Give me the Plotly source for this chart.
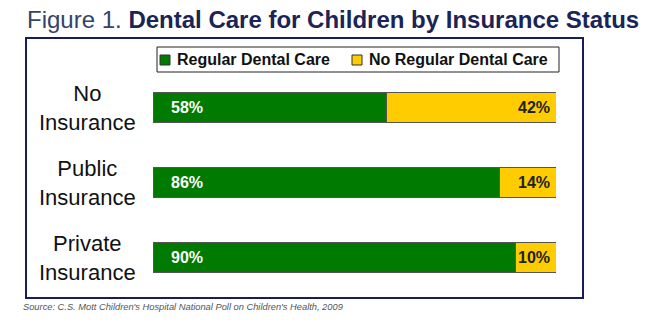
import plotly.graph_objects as go

categories = ["No<br>Insurance", "Public<br>Insurance", "Private<br>Insurance"]
regular = [58, 86, 90]
no_regular = [42, 14, 10]
series_names = ["Regular Dental Care", "No Regular Dental Care"]
series_colors = ["#007A00", "#FFCC00"]

W, H = 650, 327
L, R, T, B = 153, 94, 70, 32
pw, ph = W - L - R, H - T - B

def px(x):
    return (x - L) / pw

def py(y):
    return (H - B - y) / ph

ypos = list(range(len(categories)))
FONT = "Liberation Sans, Arial"

fig = go.Figure()
for vals, name, col in zip([regular, no_regular], series_names, series_colors):
    fig.add_trace(go.Bar(
        y=ypos, x=vals, orientation="h", name=name,
        marker=dict(color=col, line=dict(color="#555555", width=1)),
        width=0.4, hoverinfo="skip", showlegend=False))

ann = []
for i, cat in enumerate(categories):
    ann.append(dict(x=px(87), xref="paper", y=ypos[i], yref="y", text=cat,
                    showarrow=False, xanchor="center", yanchor="middle", align="center",
                    font=dict(family=FONT, size=22, color="#111111")))
    ann.append(dict(x=0, xref="x", y=ypos[i], yref="y", text="<b>%d%%</b>" % regular[i],
                    showarrow=False, xanchor="left", yanchor="middle", xshift=16,
                    font=dict(family=FONT, size=16, color="#FFFFFF")))
    ann.append(dict(x=regular[i] + no_regular[i], xref="x", y=ypos[i], yref="y",
                    text="<b>%d%%</b>" % no_regular[i],
                    showarrow=False, xanchor="right", yanchor="middle", xshift=-4,
                    font=dict(family=FONT, size=16, color="#222222")))

# title
ann.append(dict(x=px(25), xref="paper", y=py(20), yref="paper",
                text="<span style='color:#34436A'>Figure 1. </span><b>Dental Care for Children by Insurance Status</b>",
                showarrow=False, xanchor="left", yanchor="middle",
                font=dict(family=FONT, size=24, color="#1B2456")))
# source
ann.append(dict(x=px(21), xref="paper", y=py(307), yref="paper",
                text="<i>Source: C.S. Mott Children's Hospital National Poll on Children's Health, 2009</i>",
                showarrow=False, xanchor="left", yanchor="middle",
                font=dict(family=FONT, size=9.3, color="#555555")))

shapes = [dict(type="rect", xref="paper", yref="paper",
               x0=px(26), x1=px(583), y0=py(298), y1=py(38),
               line=dict(color="#1A1A5E", width=2), layer="below")]

# legend (manual, positioned in paper coordinates)
shapes.append(dict(type="rect", xref="paper", yref="paper",
                   x0=px(157), x1=px(559), y0=py(72), y1=py(47),
                   line=dict(color="#222222", width=1), fillcolor="white", layer="below"))
leg_sq_x = [160, 352]
for name, col, sx in zip(series_names, series_colors, leg_sq_x):
    shapes.append(dict(type="rect", xref="paper", yref="paper",
                       x0=px(sx), x1=px(sx + 10), y0=py(65), y1=py(55),
                       line=dict(color="#333333", width=1), fillcolor=col))
    ann.append(dict(x=px(sx + 15), xref="paper", y=py(60), yref="paper",
                    text="<b>%s</b>" % name, showarrow=False,
                    xanchor="left", yanchor="middle",
                    font=dict(family=FONT, size=16, color="#111111")))

fig.update_layout(
    width=W, height=H, barmode="stack",
    margin=dict(l=L, r=R, t=T, b=B, pad=0),
    paper_bgcolor="white", plot_bgcolor="white",
    showlegend=False,
    xaxis=dict(range=[0, 100], visible=False, fixedrange=True),
    yaxis=dict(range=[len(categories) - 0.5, -0.5], visible=False, fixedrange=True),
    annotations=ann,
    shapes=shapes,
)

fig.write_html("out.html", config={"displayModeBar": False})
